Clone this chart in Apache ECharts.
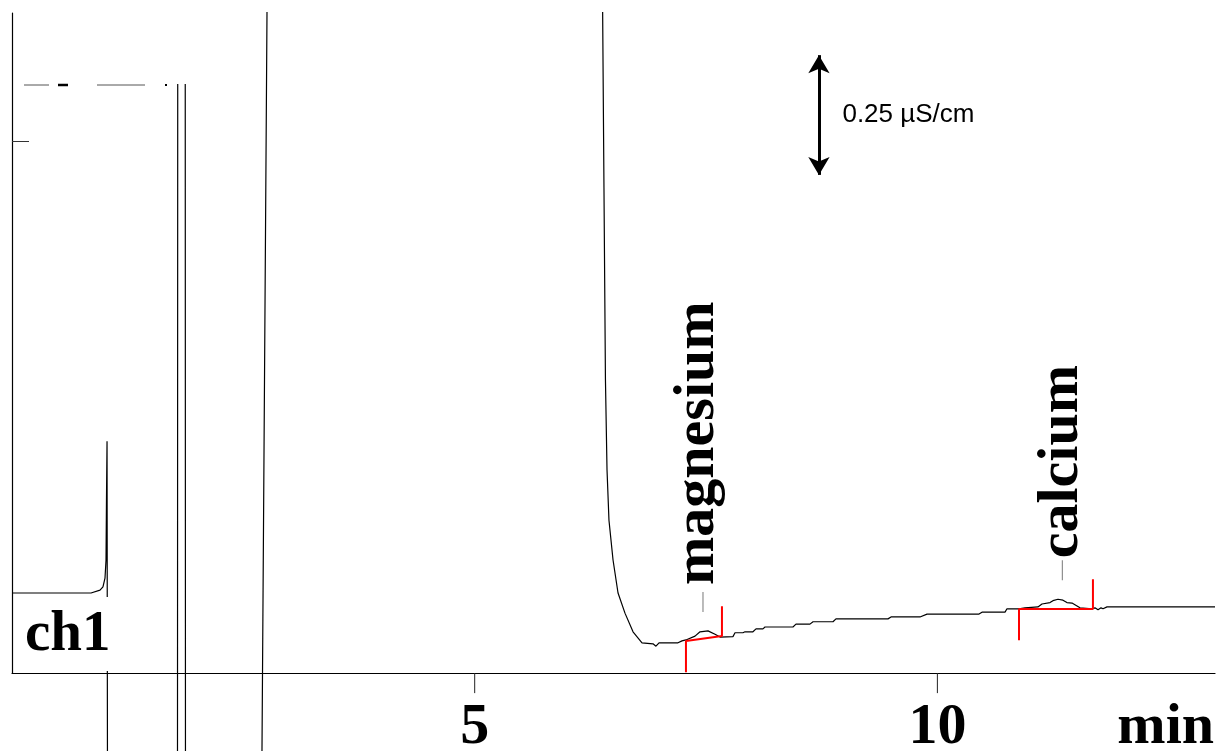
<!DOCTYPE html>
<html><head><meta charset="utf-8">
<script src="https://cdn.jsdelivr.net/npm/echarts@6/dist/echarts.min.js"></script>
<style>html,body{margin:0;padding:0;background:#fff}#c{width:1218px;height:751px}</style>
</head><body><div id="c"></div><script>
// Chromatogram trace (time in min, conductivity in µS/cm relative to axis)
const traceTime = [0.000, 0.854, 0.875, 0.951, 0.983, 1.005, 1.016, 1.021, 1.027, 1.033, 1.788, 1.794, 1.869, 1.875, 2.700, 2.757, 6.380, 6.397, 6.413, 6.430, 6.451, 6.495, 6.549, 6.624, 6.711, 6.808, 6.927, 6.959, 6.992, 7.197, 7.240, 7.283, 7.381, 7.435, 7.521, 7.597, 7.651, 7.791, 7.813, 7.899, 7.921, 8.007, 8.040, 8.115, 8.137, 8.439, 8.472, 8.623, 8.656, 8.872, 8.904, 9.466, 9.499, 9.812, 9.888, 10.450, 10.482, 10.731, 10.752, 10.882, 10.946, 11.087, 11.130, 11.217, 11.249, 11.303, 11.357, 11.400, 11.455, 11.509, 11.541, 11.671, 11.703, 11.736, 11.768, 11.790, 11.833, 13.000];
const traceSignal = [0.167, 0.167, 0.171, 0.173, 0.180, 0.198, 0.236, 0.361, 0.484, -0.400, -0.400, 3.000, 3.000, -0.400, -0.200, 1.420, 1.450, 1.013, 0.612, 0.424, 0.319, 0.236, 0.167, 0.125, 0.086, 0.063, 0.061, 0.056, 0.063, 0.063, 0.067, 0.069, 0.077, 0.086, 0.088, 0.081, 0.075, 0.076, 0.084, 0.084, 0.086, 0.086, 0.092, 0.092, 0.096, 0.096, 0.102, 0.102, 0.107, 0.107, 0.113, 0.113, 0.117, 0.117, 0.123, 0.123, 0.127, 0.127, 0.134, 0.134, 0.136, 0.138, 0.144, 0.147, 0.151, 0.154, 0.152, 0.147, 0.146, 0.140, 0.136, 0.134, 0.136, 0.132, 0.136, 0.134, 0.138, 0.138];

const xTickValues = [5, 10];
const xTickStep = 5;
const yTickValues = [1.11];
const xMin = 0, xMax = 13;
const yMin = 0, yMax = 1.378;

const peakNames = ['magnesium', 'calcium'];
const peakTimes = [7.467, 11.35];
const peakHeights = [0.0877, 0.1539];

const integStart = [[7.283, 0.0668], [10.882, 0.1336]];
const integEnd = [[7.672, 0.0772], [11.681, 0.1336]];
const integDrop = 0.065, integRise = 0.062;

const scaleBarTime = 8.72;
const scaleBarBase = 1.04;
const scaleBarSize = 0.25;
const scaleBarLabel = '0.25 µS/cm';
const channelLabel = 'ch1';
const axisUnit = 'min';

// style constants
const peakLabelNudge = [[2, -5], [-3, 0]];
const xTickDepth = 0.042; // tick length below the axis, in signal units (~20 px)

const SERIF = '"Liberation Serif", "Times New Roman", serif';
const SANS = '"Liberation Sans", Arial, sans-serif';
const BIG = 58;

const chart = echarts.init(document.getElementById('c'), null, {renderer: 'canvas'});

const traceData = traceTime.map((t, i) => [t, traceSignal[i]]);
const integSeries = integStart.map((s, i) => ({
  type: 'line', silent: true, symbol: 'none', clip: false, animation: false,
  lineStyle: {color: '#ff0000', width: 2},
  data: [[s[0], s[1] - integDrop], [s[0], s[1]], [integEnd[i][0], integEnd[i][1]], [integEnd[i][0], integEnd[i][1] + integRise]]
}));
const tickSeries = xTickValues.map(v => ({
  type: 'line', silent: true, symbol: 'none', clip: false, animation: false,
  lineStyle: {color: '#222', width: 1},
  data: [[v, 0], [v, -xTickDepth]]
}));

chart.setOption({
  animation: false,
  backgroundColor: '#fff',
  grid: {left: 12, right: 3, top: 13, bottom: 78, containLabel: false, outerBoundsMode: 'none'},
  xAxis: {
    type: 'value', min: xMin, max: xMax, interval: xTickStep, position: 'bottom',
    axisLine: {show: true, onZero: false, lineStyle: {color: '#000', width: 1.2}},
    axisTick: {show: false},
    axisLabel: {show: true, margin: 35, color: '#000', showMinLabel: false, showMaxLabel: false,
      hideOverlap: false, lineHeight: 40,
      formatter: v => (xTickValues.indexOf(v) >= 0 ? String(v) : ''),
      fontFamily: SERIF, fontWeight: 'bold', fontSize: BIG},
    splitLine: {show: false}
  },
  yAxis: {
    type: 'value', min: yMin, max: yMax,
    axisLine: {show: true, lineStyle: {color: '#000', width: 1.2}},
    axisTick: {show: true, inside: true, customValues: yTickValues, length: 17, lineStyle: {color: '#333', width: 1}},
    axisLabel: {show: false},
    splitLine: {show: false}
  },
  series: [
    {
      type: 'line', name: 'trace', data: traceData, symbol: 'none', showSymbol: false,
      clip: false, silent: true, lineStyle: {color: '#000', width: 1.2}, z: 3,
      markLine: {
        silent: true, animation: false, symbol: ['arrow', 'arrow'], symbolSize: [16, 18],
        lineStyle: {color: '#000', width: 3, type: 'solid'}, label: {show: false},
        data: [[{coord: [scaleBarTime, scaleBarBase]}, {coord: [scaleBarTime, scaleBarBase + scaleBarSize]}]]
      }
    },
    ...tickSeries,
    ...integSeries,
    {
      type: 'scatter', name: 'peaks', silent: true,
      data: peakNames.map((n, i) => ({name: n, value: [peakTimes[i], peakHeights[i]],
        label: {offset: peakLabelNudge[i]}})),
      symbol: 'rect', symbolSize: [1, 20], symbolOffset: [0, -29],
      itemStyle: {color: '#777', opacity: 1},
      label: {show: true, formatter: '{b}', position: 'top', distance: 5, rotate: 90,
        align: 'left', verticalAlign: 'middle', opacity: 1,
        color: '#000', fontFamily: SERIF, fontWeight: 'bold', fontSize: BIG}
    },
    {
      type: 'scatter', name: 'scalebar', silent: true,
      data: [{name: scaleBarLabel, value: [scaleBarTime, scaleBarBase + scaleBarSize / 2]}],
      symbolSize: 1, itemStyle: {color: 'rgba(0,0,0,0)', opacity: 1},
      label: {show: true, formatter: '{b}', position: 'right', distance: 23, opacity: 1,
        color: '#000', fontFamily: SANS, fontSize: 26}
    }
  ],
  graphic: [
    {type: 'rect', z: 100, silent: true, shape: {x: 0, y: 0, width: 1218, height: 12}, style: {fill: '#fff'}},
    {type: 'rect', z: 100, silent: true, shape: {x: 14, y: 0, width: 244, height: 84}, style: {fill: '#fff'}},
    {type: 'line', z: 101, silent: true, shape: {x1: 24, y1: 85, x2: 49, y2: 85}, style: {stroke: '#555', lineWidth: 1}},
    {type: 'line', z: 101, silent: true, shape: {x1: 58, y1: 85, x2: 68, y2: 85}, style: {stroke: '#000', lineWidth: 2.5}},
    {type: 'line', z: 101, silent: true, shape: {x1: 97, y1: 85, x2: 145, y2: 85}, style: {stroke: '#555', lineWidth: 1}},
    {type: 'rect', z: 101, silent: true, shape: {x: 165, y: 84, width: 2, height: 2}, style: {fill: '#000'}},
    {type: 'rect', z: 100, silent: true, shape: {x: 14, y: 597, width: 95, height: 74}, style: {fill: '#fff'}},
    {type: 'text', z: 102, silent: true, style: {text: channelLabel, x: 25, y: 607, align: 'left', verticalAlign: 'top',
      fill: '#000', font: 'bold 57px ' + SERIF}},
    {type: 'text', z: 102, silent: true, style: {text: axisUnit, x: 1214, y: 699, align: 'right', verticalAlign: 'top',
      fill: '#000', font: 'bold ' + BIG + 'px ' + SERIF}}
  ]
});
</script></body></html>
